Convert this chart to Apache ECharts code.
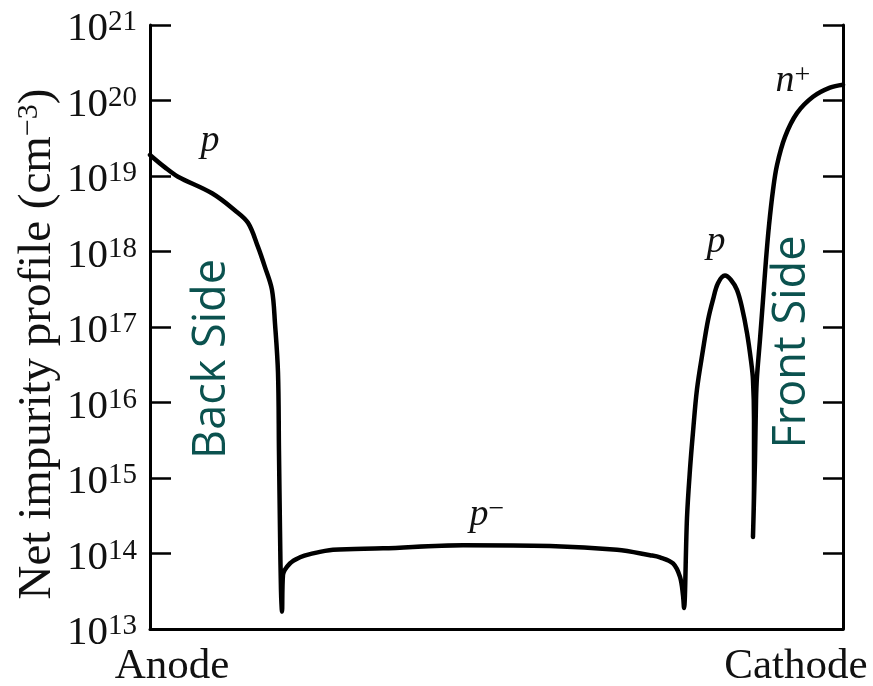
<!DOCTYPE html>
<html>
<head>
<meta charset="utf-8">
<script src="https://cdn.jsdelivr.net/npm/echarts@6/dist/echarts.min.js"></script>
<style>
  html, body { margin: 0; padding: 0; background: #ffffff; }
  #chart { width: 873px; height: 686px; }
</style>
</head>
<body>
<div id="chart"></div>
<script>
// Depth through the device, 0 = anode surface, 100 = cathode surface
const position = [
  0, 2.16, 4.04, 8.95, 12.27, 14.14, 15.58, 16.59, 17.60, 18.04, 18.47, 18.61, 18.76, 18.90, 19.05,
  19.19, 20.2, 21.65, 23.09, 26.41, 33.62, 45.17, 57.72, 67.39, 72.15, 73.59, 75.47, 76.48, 76.91, 77.06,
  77.49, 77.92, 78.35, 78.93, 79.80, 80.52, 81.24, 81.96, 82.97, 83.84, 84.70, 85.43, 86.15, 86.72, 87.01,
  87.16, 87.16, 87.01, 87.30, 87.45, 87.59, 88.02, 88.46, 88.89, 89.32, 89.90, 90.48, 91.63, 93.36, 95.67,
  98.12, 100
];
// Net impurity concentration, cm^-3
const concentration = [
  1.9e19, 1.3e19, 9.8e18, 5.9e18, 3.5e18, 2.4e18, 1.15e18, 6.2e17, 3.1e17, 1.1e17, 2.5e16, 2.3e15, 2.0e14, 3.3e13, 1.7e13,
  5.2e13, 7.4e13, 8.9e13, 9.8e13, 1.12e14, 1.17e14, 1.29e14, 1.26e14, 1.12e14, 9.5e13, 8.9e13, 7.4e13, 4.9e13, 2.8e13, 1.9e13,
  3.0e14, 1.3e15, 4.0e15, 1.5e16, 5.0e16, 1.23e17, 2.3e17, 3.8e17, 4.8e17, 4.2e17, 3.1e17, 1.8e17, 8.3e16, 3.6e16, 2.0e16,
  5.9e15, 9.3e14, 1.66e14, 1.7e15, 1.07e16, 2.2e16, 6.8e16, 2.3e17, 7.8e17, 2.2e18, 6.5e18, 1.4e19, 3.3e19, 6.8e19, 1.12e20,
  1.48e20, 1.62e20
];
const yMin = 1e13;
const yMax = 1e21;
const endLabels = ['Anode', 'Cathode'];
const sideLabels = ['Back Side', 'Front Side'];

const serif = '"Liberation Serif", "Times New Roman", serif';
const sans = '"Open Sans", "Noto Sans", sans-serif';
const teal = '#0b524f';

const chart = echarts.init(document.getElementById('chart'), null, { renderer: 'canvas' });

const tickRich = {
  b: { fontFamily: serif, fontSize: 41, color: '#111', lineHeight: 42, verticalAlign: 'bottom' },
  e: { fontFamily: serif, fontSize: 29, color: '#111', lineHeight: 26, verticalAlign: 'top' }
};

function decadeLabel(v) {
  const exp = Math.round(Math.log10(v));
  return '{b|10}{e|' + exp + '}';
}

const axisLineStyle = { color: '#000', width: 3 };

chart.setOption({
  backgroundColor: '#ffffff',
  animation: false,
  grid: { left: 150, right: 30, top: 25, bottom: 57, containLabel: false },
  xAxis: {
    type: 'value',
    min: 0,
    max: 100,
    axisLine: { show: true, lineStyle: axisLineStyle },
    axisTick: { show: false },
    axisLabel: { show: false },
    splitLine: { show: false }
  },
  yAxis: [
    {
      type: 'log',
      logBase: 10,
      min: yMin,
      max: yMax,
      splitNumber: 8,
      position: 'left',
      axisLine: { show: true, lineStyle: axisLineStyle },
      axisTick: { show: true, inside: true, length: 21, lineStyle: { color: '#000', width: 2.5 } },
      axisLabel: {
        margin: 13,
        formatter: decadeLabel,
        rich: tickRich,
        padding: [8, 0, 0, 0]
      },
      splitLine: { show: false }
    },
    {
      type: 'log',
      logBase: 10,
      min: yMin,
      max: yMax,
      splitNumber: 8,
      position: 'right',
      axisLine: { show: true, lineStyle: axisLineStyle },
      axisTick: { show: true, inside: true, length: 20, lineStyle: { color: '#000', width: 2.5 } },
      axisLabel: { show: false },
      splitLine: { show: false }
    }
  ],
  series: [
    {
      type: 'line',
      yAxisIndex: 0,
      data: position.map((x, i) => [x, concentration[i]]),
      showSymbol: false,
      smooth: 0.35,
      lineStyle: { color: '#000', width: 4.5, join: 'round', cap: 'round' },
      z: 5
    }
  ],
  graphic: [
    {
      type: 'text',
      x: 38, y: 344, rotation: Math.PI / 2,
      style: {
        text: 'Net impurity profile (cm{s|−3})',
        fontFamily: serif, fontSize: 47, fill: '#111',
        align: 'center', verticalAlign: 'middle',
        rich: {
          s: { fontFamily: serif, fontSize: 30, fill: '#111', verticalAlign: 'top', lineHeight: 24 }
        }
      }
    },
    {
      type: 'text', x: 172, y: 667,
      style: { text: endLabels[0], fontFamily: serif, fontSize: 43, fill: '#111', align: 'center', verticalAlign: 'middle' }
    },
    {
      type: 'text', x: 796, y: 667,
      style: { text: endLabels[1], fontFamily: serif, fontSize: 43, fill: '#111', align: 'center', verticalAlign: 'middle' }
    },
    {
      type: 'text', x: 212, y: 359, rotation: Math.PI / 2,
      style: { text: sideLabels[0], fontFamily: sans, fontSize: 45, fill: teal, align: 'center', verticalAlign: 'middle' }
    },
    {
      type: 'text', x: 792, y: 342, rotation: Math.PI / 2,
      style: { text: sideLabels[1], fontFamily: sans, fontSize: 45, fill: teal, align: 'center', verticalAlign: 'middle' }
    },
    {
      type: 'text', x: 210, y: 141,
      style: { text: 'p', fontFamily: serif, fontStyle: 'italic', fontSize: 38, fill: '#111', align: 'center', verticalAlign: 'middle' }
    },
    {
      type: 'text', x: 716, y: 242,
      style: { text: 'p', fontFamily: serif, fontStyle: 'italic', fontSize: 38, fill: '#111', align: 'center', verticalAlign: 'middle' }
    },
    {
      type: 'text', x: 487, y: 515,
      style: {
        text: '{m|p}{s|−}',
        align: 'center', verticalAlign: 'middle',
        rich: {
          m: { fontFamily: serif, fontStyle: 'italic', fontSize: 38, fill: '#111', verticalAlign: 'bottom', lineHeight: 38 },
          s: { fontFamily: serif, fontSize: 28, fill: '#111', verticalAlign: 'top', lineHeight: 26 }
        }
      }
    },
    {
      type: 'text', x: 793, y: 81,
      style: {
        text: '{m|n}{s|+}',
        align: 'center', verticalAlign: 'middle',
        rich: {
          m: { fontFamily: serif, fontStyle: 'italic', fontSize: 38, fill: '#111', verticalAlign: 'bottom', lineHeight: 38 },
          s: { fontFamily: serif, fontSize: 28, fill: '#111', verticalAlign: 'top', lineHeight: 26 }
        }
      }
    }
  ]
});
</script>
</body>
</html>
